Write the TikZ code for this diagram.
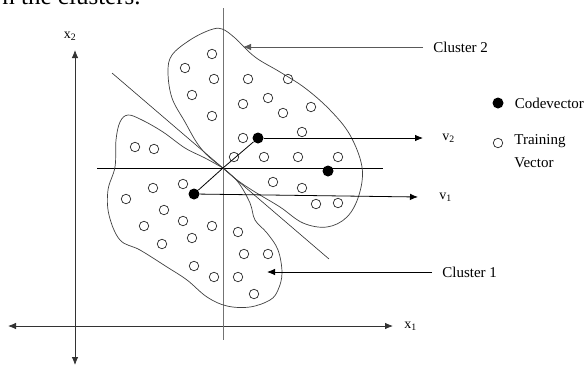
\documentclass[tikz,border=0pt]{standalone}
\usepackage{fontspec}
\setmainfont{Liberation Serif}
\usetikzlibrary{arrows.meta,positioning}
\tikzstyle{train} = [draw=black!85, circle, line width=0.7pt, minimum size=9.5pt, inner sep=0pt]
\tikzstyle{codev} = [fill=black, circle, minimum size=11pt, inner sep=0pt]
\tikzstyle{lbl} = [inner sep=0pt, font=\fontsize{15}{23}\selectfont]
\tikzstyle{blob} = [draw=black!75, line width=0.7pt, smooth, tension=0.6]

\begin{document}
\begin{tikzpicture}[x=1pt, y=-1pt, >={Latex[length=8pt, width=6.5pt]}, line width=0.8pt]
    \useasboundingbox (0,0) rectangle (584,367);
    % Text cut off at the top
    \node [anchor=base east, inner sep=0pt, font=\fontsize{25}{27}\selectfont] (head) at (141,4) {n the clusters.};

    % Axes
    \coordinate (x2top) at (75,50);
    \coordinate (x2bot) at (75,365);
    \coordinate (x1left) at (8,326);
    \coordinate (x1right) at (393,326);
    \draw [<->, black!80] (x2bot) -- (x2top);
    \draw [<->, black!80] (x1left) -- (x1right);
    \node [lbl, font=\fontsize{14}{16}\selectfont] (x2) at (70,36) {x\textsubscript{2}};
    \node [lbl, font=\fontsize{14}{16}\selectfont, right=11pt of x1right] (x1) {x\textsubscript{1}};

    % Lines through the origin
    \coordinate (o) at (223,168);
    \coordinate (vtop) at (223,8);
    \coordinate (vbot) at (223,340);
    \coordinate (hleft) at (97,168);
    \coordinate (hright) at (383,168);
    \coordinate (dtop) at (112,73);
    \coordinate (dbot) at (329,259);
    \draw [black!55] (vtop) -- (vbot);
    \draw (hleft) -- (hright);
    \draw [black!80, line width=0.6pt] (dtop) -- (dbot);

    % Cluster outlines
    \draw [blob] plot coordinates {(223,168) (208,156) (197,143) (185,122) (172,98) (168,72)
        (172,55) (190,40) (210,30) (222,29) (235,38) (255,57) (280,72) (305,88) (330,110)
        (350,135) (362,167) (359,195) (347,217) (327,227) (303,223) (280,207) (255,192)
        (237,180) (223,168)};
    \draw [blob] plot coordinates {(223,168) (205,158) (185,148) (163,132) (142,120) (128,115)
        (120,122) (116,140) (115,167) (108,190) (109,215) (120,240) (140,250) (167,267)
        (187,280) (207,297) (227,306) (250,307) (270,300) (278,290) (282,273) (278,250)
        (267,233) (255,220) (250,203) (238,182) (223,168)};

    % Training vectors
    \foreach \x/\y [count=\i] in {212/54, 185/68, 214/79, 192/95, 212/116, 135/147, 154/149,
        248/79, 288/79, 268/98, 243/104, 283/113, 311/107, 302/132, 243/138, 234/157,
        264/157, 298/157, 338/157, 273/182, 302/188, 316/204, 338/203,
        153/188, 183/184, 126/199, 164/210, 144/226, 183/221, 212/226, 192/238, 162/244,
        194/266, 214/277, 238/232, 244/254, 268/254, 238/277, 254/294}
        \node [train] (t\i) at (\x,\y) {};

    % Codevectors
    \node [codev] (cv1) at (194,194) {};
    \node [codev] (cv2) at (258,138) {};
    \node [codev] (cv3) at (328,171) {};
    \draw (o) -- (cv1);
    \draw (o) -- (cv2);
    \coordinate (v1tip) at (418,197);
    \coordinate (v2tip) at (423,138);
    \draw [->] (cv1) -- (v1tip);
    \draw [->] (cv2) -- (v2tip);
    \node [lbl, font=\fontsize{14}{16}\selectfont, right=21pt of v1tip] (v1) {v\textsubscript{1}};
    \node [lbl, font=\fontsize{14}{16}\selectfont, right=19pt of v2tip] (v2) {v\textsubscript{2}};

    % Cluster labels
    \node [lbl, anchor=west] (c2) at (433,47) {Cluster 2};
    \node [lbl, anchor=west] (c1) at (442,272) {Cluster 1};
    \coordinate (c2tip) at (243,47);
    \coordinate (c1tip) at (267,272);
    \draw [->, black!65] ([xshift=-10pt]c2.west) -- (c2tip);
    \draw [->] ([xshift=-10pt]c1.west) -- (c1tip);

    % Legend
    \node [codev] (legcv) at (498,103) {};
    \node [lbl, right=10.5pt of legcv] (legcvtxt) {Codevector};
    \node [train] (legtr) at (498,143) {};
    \node [lbl, align=left, anchor=west] (legtrtxt) at (514,151) {Training\\Vector};
\end{tikzpicture}
\end{document}
